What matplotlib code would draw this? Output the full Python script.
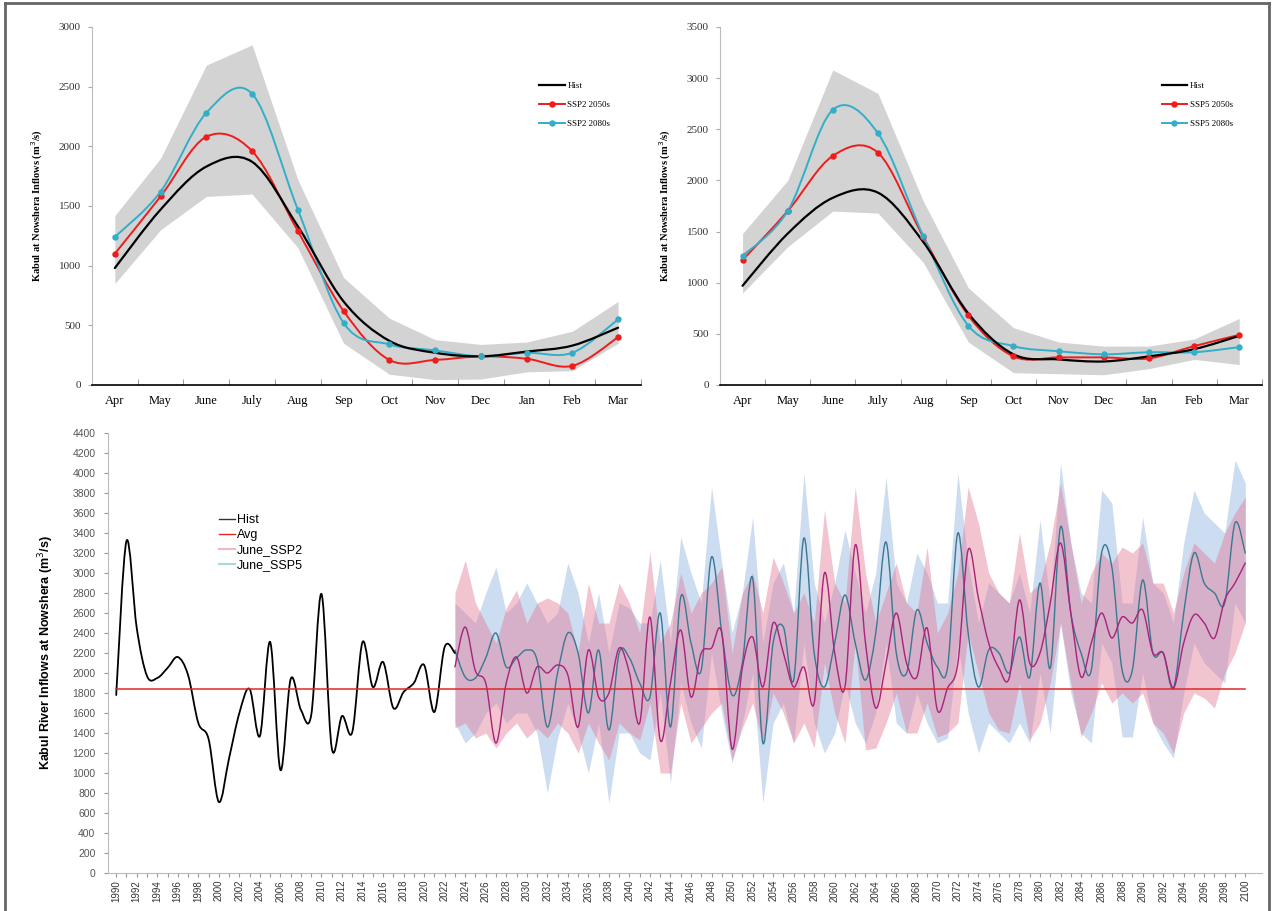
import numpy as np
import matplotlib
matplotlib.use("Agg")
import matplotlib.pyplot as plt
from matplotlib.path import Path
from matplotlib.patches import PathPatch
from matplotlib.lines import Line2D

# ---------------- data: monthly regime (top panels) ----------------
months = ['Apr', 'May', 'June', 'July', 'Aug', 'Sep', 'Oct', 'Nov', 'Dec', 'Jan', 'Feb', 'Mar']

tl_hist = [980, 1470, 1830, 1870, 1330, 700, 370, 270, 240, 280, 330, 480]
tl_ssp2_2050s = [1100, 1580, 2080, 1960, 1290, 620, 210, 210, 240, 220, 160, 400]
tl_ssp2_2080s = [1240, 1620, 2280, 2440, 1470, 520, 340, 290, 240, 270, 270, 550]
tl_band_hi = [1420, 1900, 2680, 2850, 1720, 900, 560, 380, 340, 360, 450, 700]
tl_band_lo = [850, 1300, 1580, 1600, 1150, 350, 90, 45, 50, 110, 120, 350]

tr_hist = [970, 1480, 1830, 1880, 1400, 700, 300, 250, 230, 280, 350, 480]
tr_ssp5_2050s = [1220, 1700, 2240, 2270, 1450, 680, 280, 270, 270, 260, 380, 490]
tr_ssp5_2080s = [1260, 1700, 2690, 2460, 1460, 580, 380, 330, 300, 320, 320, 370]
tr_band_hi = [1480, 2000, 3080, 2850, 1800, 950, 560, 420, 380, 380, 450, 650]
tr_band_lo = [900, 1350, 1700, 1680, 1200, 420, 120, 110, 100, 160, 250, 200]

# ---------------- data: annual series (bottom panel) ----------------
hist_years = list(range(1990, 2024))
hist_vals = [1780, 3320, 2450, 1970, 1950, 2050, 2160, 1980, 1500, 1340,
             710, 1150, 1600, 1840, 1370, 2310, 1030, 1940, 1630, 1580,
             2790, 1250, 1570, 1410, 2310, 1860, 2110, 1650, 1810, 1900,
             2080, 1610, 2260, 2200]
avg_value = 1840

proj_years = list(range(2023, 2101))
ssp2_line = [2060, 2460, 2020, 1900, 1300, 1900, 2160, 1800, 2060, 2000,
             2080, 1980, 1460, 2230, 1760, 1800, 2250, 2000, 1500, 2560,
             1330, 1900, 2430, 1760, 2200, 2250, 2400, 1240, 2050, 2360,
             1860, 2500, 2200, 1860, 2060, 1700, 3000, 2200, 1860, 3280,
             2300, 1650, 2100, 2600, 2100, 1960, 2450, 1630, 1850, 2100,
             3230, 2750, 2300, 2050, 1950, 2730, 2100, 2200, 2700, 3300,
             2600, 1960, 2300, 2600, 2350, 2560, 2500, 2630, 2200, 2200,
             1850, 2300, 2580, 2500, 2350, 2730, 2900, 3100]
ssp2_hi = [2800, 3130, 2700, 2500, 2300, 2650, 2830, 2500, 2700, 2750,
           2700, 2600, 2200, 2900, 2500, 2500, 2900, 2700, 2400, 3210,
           2300, 2500, 3000, 2600, 2800, 2900, 3060, 2200, 2800, 3000,
           2600, 3160, 2900, 2600, 2800, 2500, 3630, 2900, 2700, 3860,
           3000, 2500, 2800, 3100, 2700, 2600, 3260, 2400, 2600, 3000,
           3860, 3500, 3000, 2800, 2700, 3400, 2800, 2900, 3300, 3900,
           3300, 2700, 3000, 3200, 3100, 3260, 3200, 3300, 2900, 2900,
           2600, 3000, 3300, 3200, 3100, 3400, 3600, 3760]
ssp2_lo = [1450, 1500, 1350, 1400, 1250, 1400, 1500, 1350, 1450, 1350,
           1500, 1400, 1200, 1500, 1300, 1130, 1500, 1400, 1330, 1700,
           1000, 1000, 1700, 1300, 1450, 1600, 1700, 1130, 1450, 1700,
           1300, 1800, 1600, 1300, 1500, 1250, 2100, 1600, 1300, 2300,
           1230, 1250, 1500, 1800, 1400, 1400, 1700, 1360, 1400, 1500,
           2400, 2000, 1600, 1430, 1400, 1900, 1330, 1500, 1900, 2500,
           1900, 1360, 1600, 1900, 1700, 1800, 1700, 1800, 1500, 1400,
           1200, 1600, 1800, 1750, 1650, 2000, 2200, 2500]
ssp5_line = [2230, 1960, 1950, 2150, 2400, 2060, 2150, 2230, 2130, 1460,
             2000, 2400, 2200, 1600, 2230, 1430, 2200, 2150, 1900, 1760,
             2600, 1460, 2760, 2300, 2030, 3160, 2400, 1780, 2100, 2950,
             1300, 2300, 2460, 1930, 3350, 2200, 1860, 2300, 2780, 2300,
             1930, 2400, 3310, 2200, 2000, 2630, 2300, 2060, 2060, 3400,
             2400, 1860, 2230, 2200, 2000, 2360, 1960, 2900, 2050, 3460,
             2600, 2200, 2030, 3200, 3060, 2030, 2030, 2930, 2200, 2200,
             1850, 2600, 3200, 2900, 2800, 2700, 3500, 3200]
ssp5_hi = [2700, 2600, 2500, 2800, 3060, 2600, 2700, 2900, 2700, 2500,
           2600, 3100, 2800, 2300, 2800, 2200, 2700, 2650, 2500, 2500,
           3130, 2300, 3360, 3000, 2700, 3860, 3100, 2400, 2800, 3560,
           2300, 2900, 3100, 2600, 4000, 2900, 2500, 2900, 3430, 3000,
           2600, 3000, 3960, 2900, 2700, 3200, 3000, 2700, 2700, 4000,
           3100, 2500, 2900, 2800, 2700, 3000, 2600, 3530, 2700, 4100,
           3300, 2800, 2700, 3830, 3700, 2700, 2700, 3560, 2900, 2800,
           2500, 3300, 3830, 3600, 3500, 3400, 4130, 3900]
ssp5_lo = [1500, 1300, 1400, 1600, 1700, 1500, 1600, 1600, 1400, 800,
           1350, 1700, 1400, 1000, 1500, 700, 1400, 1400, 1200, 1130,
           1800, 900, 1900, 1500, 1250, 2200, 1600, 1100, 1500, 2000,
           700, 1500, 1700, 1300, 2300, 1500, 1200, 1400, 1900, 1500,
           1300, 1600, 2300, 1500, 1400, 1800, 1500, 1300, 1350, 2300,
           1600, 1200, 1500, 1400, 1300, 1500, 1300, 2000, 1400, 2500,
           1800, 1400, 1300, 2300, 2100, 1360, 1360, 2000, 1500, 1300,
           1150, 1800, 2300, 2100, 2000, 1900, 2700, 2500]


def smooth_path(x, y):
    """Catmull-Rom style cubic Bezier path through the data points."""
    pts = np.column_stack([np.asarray(x, float), np.asarray(y, float)])
    n = len(pts)
    verts = [pts[0]]
    codes = [Path.MOVETO]
    for i in range(n - 1):
        p0 = pts[i - 1] if i > 0 else pts[i]
        p1 = pts[i]
        p2 = pts[i + 1]
        p3 = pts[i + 2] if i + 2 < n else pts[i + 1]
        c1 = p1 + (p2 - p0) / 6.0
        c2 = p2 - (p3 - p1) / 6.0
        verts += [c1, c2, p2]
        codes += [Path.CURVE4] * 3
    return Path(verts, codes)


def smooth_line(ax, x, y, color, lw, z=3):
    ax.add_patch(PathPatch(smooth_path(x, y), fill=False, edgecolor=color,
                           lw=lw, zorder=z, capstyle='round', joinstyle='round'))


fig = plt.figure(figsize=(12.72, 9.11), dpi=100)

SERIF = ['Liberation Serif', 'DejaVu Serif']
SANS = ['Liberation Sans', 'DejaVu Sans']
RED = '#ee1c1c'
CYAN = '#33aec8'


def top_panel(rect, hist, s50, s80, hi, lo, ymax, lab50, lab80):
    ax = fig.add_axes(rect)
    x = np.arange(len(months))
    ax.fill_between(x, lo, hi, color='#d3d3d3', lw=0, zorder=1)
    smooth_line(ax, x, hist, 'black', 1.6, 4)
    smooth_line(ax, x, s50, RED, 1.4, 3)
    smooth_line(ax, x, s80, CYAN, 1.4, 3)
    ax.plot(x, s50, 'o', ms=3.6, color=RED, zorder=5, mec=RED)
    ax.plot(x, s80, 'o', ms=3.6, color=CYAN, zorder=5, mec=CYAN)
    ax.set_xlim(-0.5, len(months) - 0.5)
    ax.set_ylim(0, ymax)
    ax.set_yticks(np.arange(0, ymax + 1, 500))
    ax.set_xticks(x)
    ax.set_xticklabels(months, family=SERIF, fontsize=9)
    ax.set_xticks(np.arange(-0.5, len(months), 1), minor=True)
    ax.tick_params(axis='x', which='major', length=0, pad=7)
    ax.tick_params(axis='x', which='minor', length=4, color='#888888', direction='in')
    ax.tick_params(axis='y', length=3, color='#aaaaaa', labelsize=8, pad=5,
                   labelcolor='#333333')
    for t in ax.get_yticklabels():
        t.set_family(SERIF)
    for s in ['top', 'right']:
        ax.spines[s].set_visible(False)
    ax.spines['left'].set_color('#bbbbbb')
    ax.spines['bottom'].set_color('black')
    ax.spines['bottom'].set_linewidth(1.2)
    ax.set_ylabel('Kabul at Nowshera Inflows (m$^3$/s)', family=SERIF,
                  fontsize=7.5, fontweight='bold', labelpad=10)
    handles = [Line2D([], [], color='black', lw=1.6),
               Line2D([], [], color=RED, lw=1.4, marker='o', ms=3.6),
               Line2D([], [], color=CYAN, lw=1.4, marker='o', ms=3.6)]
    ax.legend(handles, ['Hist', lab50, lab80], loc='upper left',
              bbox_to_anchor=(0.80, 0.87), frameon=False,
              prop={'family': SERIF, 'size': 6.5}, handlelength=2.8,
              labelspacing=1.2, handletextpad=0.3)
    return ax


top_panel([0.0723, 0.5774, 0.4316, 0.393], tl_hist, tl_ssp2_2050s, tl_ssp2_2080s,
          tl_band_hi, tl_band_lo, 3000, 'SSP2 2050s', 'SSP2 2080s')
top_panel([0.566, 0.5774, 0.426, 0.393], tr_hist, tr_ssp5_2050s, tr_ssp5_2080s,
          tr_band_hi, tr_band_lo, 3500, 'SSP5 2050s', 'SSP5 2080s')

# ---------------- bottom panel ----------------
axb = fig.add_axes([0.0849, 0.0417, 0.907, 0.483])
axb.fill_between(proj_years, ssp5_lo, ssp5_hi, color='#a2c0e6', alpha=0.55, lw=0, zorder=1)
axb.fill_between(proj_years, ssp2_lo, ssp2_hi, color='#e07c98', alpha=0.45, lw=0, zorder=2)
smooth_line(axb, hist_years, hist_vals, 'black', 1.3, 4)
smooth_line(axb, proj_years, ssp5_line, '#3b7890', 1.0, 3)
smooth_line(axb, proj_years, ssp2_line, '#a8237a', 1.0, 3)
axb.plot([hist_years[0], proj_years[-1]], [avg_value, avg_value], color='#e02828',
         lw=1.1, zorder=5)

axb.set_xlim(1989.2, 2101.6)
axb.set_ylim(0, 4400)
axb.set_yticks(np.arange(0, 4401, 200))
all_years = np.arange(1990, 2101)
axb.set_xticks(all_years)
axb.set_xticklabels([str(y) if y % 2 == 0 else '' for y in all_years],
                    rotation=90, family=SANS, fontsize=7)
axb.tick_params(axis='x', length=3, color='#999999', pad=2, labelcolor='#333333')
axb.tick_params(axis='y', length=3, color='#999999', labelsize=7.5, pad=6,
                labelcolor='#555555')
for t in axb.get_yticklabels():
    t.set_family(SANS)
for s in ['top', 'right']:
    axb.spines[s].set_visible(False)
axb.spines['left'].set_color('#bbbbbb')
axb.spines['bottom'].set_color('#bbbbbb')
axb.set_ylabel('Kabul River Inflows at Nowshera (m$^3$/s)', family=SANS,
               fontsize=9, fontweight='bold', labelpad=12)

bh = [Line2D([], [], color='#333333', lw=1.0),
      Line2D([], [], color='#e02828', lw=1.0),
      Line2D([], [], color='#f2b8c0', lw=1.5),
      Line2D([], [], color='#a8d8dc', lw=1.5)]
fig.legend(bh, ['Hist', 'Avg', 'June_SSP2', 'June_SSP5'], loc='upper left',
           bbox_to_anchor=(0.163, 0.448), frameon=False,
           prop={'family': SANS, 'size': 9}, handlelength=1.3,
           labelspacing=0.25, handletextpad=0.2)

# figure border
for xs, ys in [([0.004, 0.004], [0, 0.997]), ([0.004, 0.998], [0.997, 0.997]),
               ([0.998, 0.998], [0, 0.997])]:
    fig.add_artist(Line2D(xs, ys, color='#666666', lw=2, transform=fig.transFigure))

fig.savefig('out.png', dpi=100)
